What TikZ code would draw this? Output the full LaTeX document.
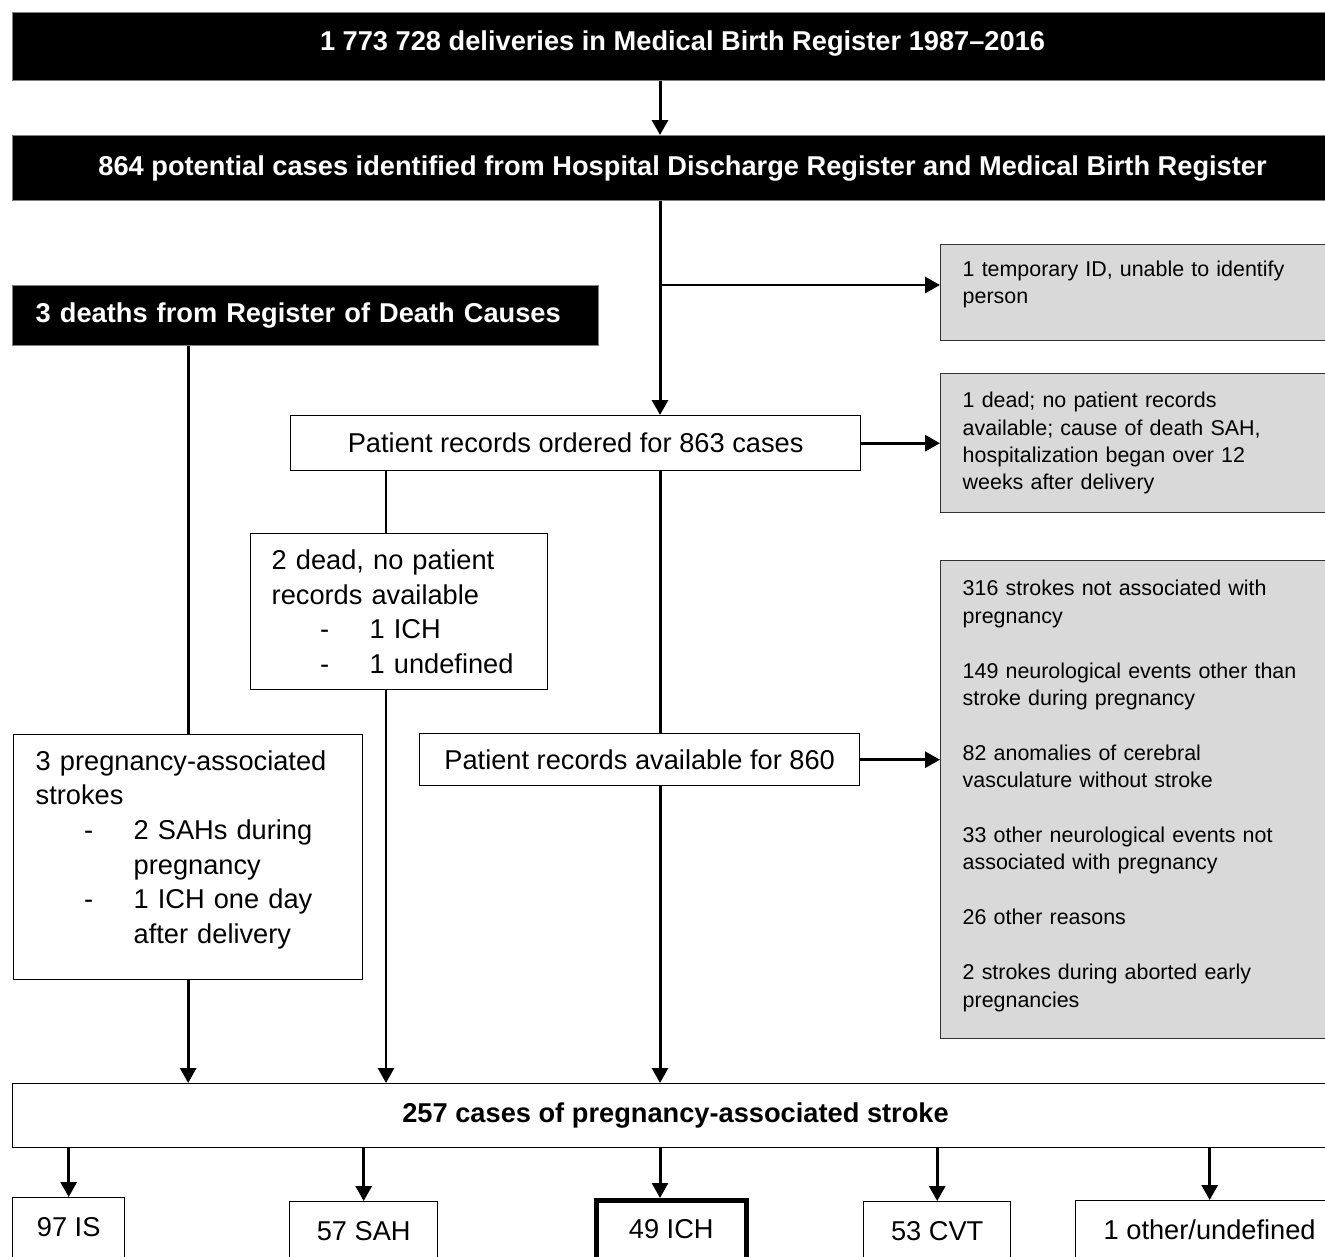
\documentclass[tikz,border=0pt]{standalone}
\usepackage{fontspec}
\setmainfont{Liberation Sans}
\usetikzlibrary{arrows.meta, positioning}
\newcommand{\bigtext}{\fontsize{15.5pt}{19.7pt}\selectfont}
\newcommand{\smalltext}{\fontsize{12.2pt}{15.6pt}\selectfont}
\newcommand{\dashitem}[1]{\hspace*{0.97cm}\makebox[0.99cm][l]{-}#1}
\newcommand{\dashcont}[1]{\hspace*{1.96cm}#1}

\begin{document}
\begin{tikzpicture}[
  x=0.02cm, y=-0.02cm,
  every node/.style={draw, line width=0.8pt, inner sep=0pt, anchor=north west,
    font=\bigtext, align=center},
  blackbox/.style={fill=black, draw=gray, text=white, font=\bigtext\bfseries},
  greybox/.style={fill=black!15, draw=black!80, font=\smalltext, align=left,
    text width=7.12cm, inner xsep=0.44cm},
  listbox/.style={align=left, inner xsep=0.43cm},
  resultbox/.style={minimum height=0pt, inner ysep=0pt, text height=0.77cm,
    text depth=0.6cm},
  line/.style={line width=1.7pt},
  arrow/.style={line, -{Triangle[length=0.3cm, width=0.32cm]}},
]
  \useasboundingbox (0,0) rectangle (1325,1257);
  \clip (0,0) rectangle (1325,1257);

  % Register boxes
  \node[blackbox, minimum width=26.8cm, minimum height=1.36cm, text depth=0.26cm] (deliv) at (12,12)
    {1 773 728 deliveries in Medical Birth Register 1987--2016};
  \node[blackbox, minimum width=26.8cm, minimum height=1.3cm] (cases) at (12,135)
    {864 potential cases identified from Hospital Discharge Register and Medical Birth Register};
  \node[blackbox, align=left, text width=10.8cm, inner xsep=0.46cm,
    minimum height=1.2cm] (deaths) at (12,285)
    {3 deaths from Register of Death Causes};

  % Exclusions
  \node[greybox, minimum height=1.92cm] (tempid) at (940,244)
    {1 temporary ID, unable to identify\\person\\[-4pt]\mbox{}};
  \node[greybox, minimum height=2.78cm] (deadsah) at (940,373)
    {1 dead; no patient records\\available; cause of death SAH,\\
     hospitalization began over 12\\weeks after delivery};
  \node[greybox, minimum height=9.56cm] (excluded) at (940,560)
    {316 strokes not associated with\\pregnancy\\[15.6pt]
     149 neurological events other than\\stroke during pregnancy\\[15.6pt]
     82 anomalies of cerebral\\vasculature without stroke\\[15.6pt]
     33 other neurological events not\\associated with pregnancy\\[15.6pt]
     26 other reasons\\[15.6pt]
     2 strokes during aborted early\\pregnancies\\[-8.8pt]\mbox{}};

  % Patient records
  \node[minimum width=11.4cm, minimum height=1.1cm] (ordered) at (290,415)
    {Patient records ordered for 863 cases};
  \node[listbox, text width=5.1cm, inner xsep=0.42cm, minimum height=3.12cm] (nodata) at (250,533)
    {2 dead, no patient\\records available\\\dashitem{1 ICH}\\\dashitem{1 undefined}};
  \node[minimum width=8.8cm, minimum height=1.04cm] (avail) at (419,733)
    {Patient records available for 860};
  \node[listbox, text width=6.1cm, inner xsep=0.44cm, minimum height=4.9cm] (strokes) at (13,734)
    {3 pregnancy-associated\\strokes\\\dashitem{2 SAHs during}\\\dashcont{pregnancy}\\
     \dashitem{1 ICH one day}\\\dashcont{after delivery}\\[-8pt]\mbox{}};

  % Result
  \node[font=\bigtext\bfseries, minimum width=26.52cm, minimum height=1.28cm] (total) at (12,1083)
    {257 cases of pregnancy-associated stroke};
  \node[resultbox, minimum width=2.24cm] (is) at (12,1197) {97 IS};
  \node[resultbox, minimum width=2.96cm] (sah) at (289,1201) {57 SAH};
  \node[resultbox, minimum width=3cm, line width=2.6pt] (ich) at (594,1198) {49 ICH};
  \node[resultbox, minimum width=2.94cm] (cvt) at (863,1201) {53 CVT};
  \node[resultbox, minimum width=5.36cm] (other) at (1075,1200) {1 other/undefined};

  % Connectors
  \coordinate (spine) at (660,0);
  \coordinate (mid) at (386,0);
  \coordinate (split) at (660,285);
  \draw[arrow] (deliv.south -| spine) -- (cases.north -| spine);
  \draw[arrow] (cases.south -| spine) -- (ordered.north -| spine);
  \draw[arrow] (split) -- (split -| tempid.west);
  \draw[arrow] (ordered.east) -- (ordered.east -| deadsah.west);
  \draw[line] (ordered.south -| mid) -- (nodata.north -| mid);
  \draw[arrow] (nodata.south -| mid) -- (total.north -| mid);
  \draw[line] (ordered.south -| spine) -- (avail.north -| spine);
  \draw[arrow] (avail.south -| spine) -- (total.north -| spine);
  \draw[arrow] (avail.east) -- (avail.east -| excluded.west);
  \draw[line] (deaths.south -| strokes.north) -- (strokes.north);
  \draw[arrow] (strokes.south) -- (total.north -| strokes.south);
  \foreach \b in {is, sah, cvt, other}
    \draw[arrow] (total.south -| \b.north) -- (\b.north);
  \draw[arrow] (total.south -| spine) -- (ich.north -| spine);
\end{tikzpicture}
\end{document}
